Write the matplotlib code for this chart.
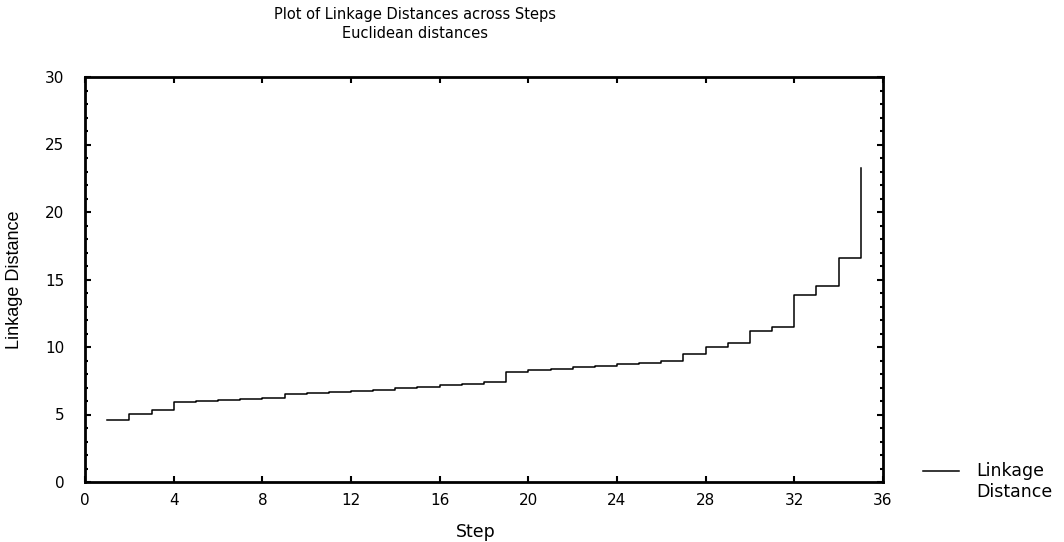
import matplotlib
matplotlib.use("Agg")
import matplotlib.pyplot as plt
from matplotlib.ticker import MultipleLocator
from matplotlib.lines import Line2D

steps = list(range(1, 36))
linkage_distance = [4.59, 5.01, 5.33, 5.95, 5.98, 6.07, 6.17, 6.20, 6.50, 6.59,
                    6.65, 6.72, 6.81, 6.94, 7.04, 7.16, 7.28, 7.43, 8.15, 8.32,
                    8.36, 8.49, 8.60, 8.74, 8.84, 8.99, 9.48, 9.98, 10.32, 11.21,
                    11.46, 13.88, 14.50, 16.57, 23.24]
x_ticks = [0, 4, 8, 12, 16, 20, 24, 28, 32, 36]
y_ticks = [0, 5, 10, 15, 20, 25, 30]

plt.rcParams['font.family'] = ['DejaVu Sans']

W, H = 1064, 542
fig = plt.figure(figsize=(W / 100, H / 100), dpi=100)
ax = fig.add_axes([85 / W, 1 - 482 / H, (883 - 85) / W, (482 - 77) / H])

ax.plot(steps, linkage_distance, drawstyle='steps-post', color='black', lw=1.1)

ax.set_xlim(0, 36)
ax.set_ylim(0, 30)
ax.set_xticks(x_ticks)
ax.set_yticks(y_ticks)
ax.yaxis.set_minor_locator(MultipleLocator(1))
ax.tick_params(which='both', direction='in', top=True, right=True,
               labelsize=11, width=1.5)
ax.tick_params(which='major', length=4)
ax.tick_params(axis='x', which='major', pad=8)
ax.tick_params(axis='y', which='major', pad=15)
ax.tick_params(which='minor', length=2)
for s in ax.spines.values():
    s.set_linewidth(2)

ax.set_xlabel('Step', fontsize=12.5, va='center')
ax.xaxis.set_label_coords(0.49, -(532 - 482) / 405)
ax.set_ylabel('Linkage Distance', fontsize=13, family=['Liberation Sans'], va='center')
ax.yaxis.set_label_coords(-(85 - 15) / 798, 0.5)

fig.text(415 / W, 1 - 15 / H, 'Plot of Linkage Distances across Steps',
         ha='center', va='center', fontsize=10.5)
fig.text(415 / W, 1 - 33 / H, 'Euclidean distances',
         ha='center', va='center', fontsize=10.5)

# legend
fig.add_artist(Line2D([923 / W, 959 / W], [1 - 471 / H, 1 - 471 / H],
                      color='black', lw=1.1, transform=fig.transFigure))
fig.text(976 / W, 1 - 471 / H, 'Linkage', ha='left', va='center', fontsize=12.5)
fig.text(976 / W, 1 - 492 / H, 'Distance', ha='left', va='center', fontsize=12.5)

fig.savefig('out.png', dpi=100)
